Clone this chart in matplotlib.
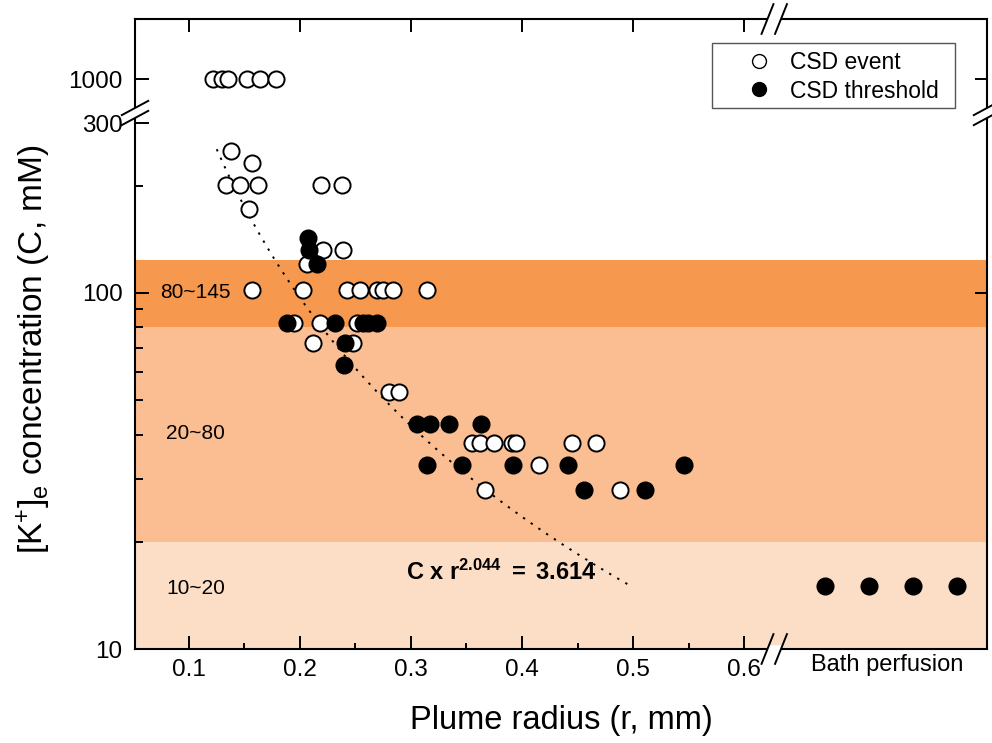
import numpy as np
import matplotlib.pyplot as plt
import matplotlib.ticker as ticker
from matplotlib.lines import Line2D
from matplotlib.patches import Polygon, Rectangle

plt.rcParams['font.family'] = ['Liberation Sans', 'DejaVu Sans']
plt.rcParams['mathtext.fontset'] = 'custom'
plt.rcParams['mathtext.rm'] = 'Liberation Sans'
plt.rcParams['mathtext.it'] = 'Liberation Sans:italic'
plt.rcParams['mathtext.bf'] = 'Liberation Sans:bold'

# --- data ---
event_r = [0.122, 0.130, 0.135, 0.152, 0.164, 0.178,
           0.138, 0.157,
           0.133, 0.146, 0.162, 0.219, 0.238,
           0.154,
           0.221, 0.239, 0.206,
           0.157, 0.203, 0.242, 0.254, 0.269, 0.275, 0.284, 0.314,
           0.195, 0.218, 0.251,
           0.212, 0.248,
           0.280, 0.289,
           0.355, 0.362, 0.375, 0.391, 0.395, 0.445, 0.467,
           0.415,
           0.367, 0.488]
event_c = [1000, 1000, 1000, 1000, 1000, 1000,
           251, 232,
           201, 201, 201, 201, 201,
           172,
           132, 132, 121,
           102, 102, 102, 102, 102, 102, 102, 102,
           82.4, 82.4, 82.4,
           72.4, 72.4,
           52.7, 52.7,
           37.9, 37.9, 37.9, 37.9, 37.9, 37.9, 37.9,
           32.9,
           28.0, 28.0]

thresh_r = [0.207, 0.208, 0.215,
            0.188, 0.232, 0.257, 0.261, 0.269,
            0.241, 0.240,
            0.305, 0.317, 0.334, 0.363,
            0.314, 0.346, 0.392, 0.441, 0.546,
            0.456, 0.511]
thresh_c = [143, 132, 121,
            82.4, 82.4, 82.4, 82.4, 82.4,
            72.4, 62.8,
            42.9, 42.9, 42.9, 42.9,
            32.9, 32.9, 32.9, 32.9, 32.9,
            28.0, 28.0]

bath_idx = [1, 2, 3, 4]
bath_c = [15.0, 15.0, 15.0, 15.0]

# power-law fit printed on the chart: C * r^n = k
fit_k = 3.614
fit_n = 2.044
fit_r_range = (0.125, 0.5)

band_edges = [10, 20, 80, 124]
band_labels = ['10~20', '20~80', '80~145']
band_label_y = [14.8, 40.4, 100]
band_colors = ['#FCDEC7', '#FABE92', '#F7984F']

x_ticks = [0.1, 0.2, 0.3, 0.4, 0.5, 0.6]
x_minor = [0.15, 0.25, 0.35, 0.45, 0.55]
y_ticks = [10, 100, 300, 1000]
y_minor = [20, 30, 40, 50, 60, 70, 80, 90, 200]

# --- broken log axis for y (compressed above 300) ---
Y_BREAK = 300.0
SQUEEZE = 0.237


def fwd(y):
    y = np.asarray(y, dtype=float)
    lb = np.log10(Y_BREAK)
    with np.errstate(divide='ignore', invalid='ignore'):
        ly = np.log10(np.clip(y, 1e-9, None))
    return np.where(ly <= lb, ly, lb + (ly - lb) * SQUEEZE)


def inv(t):
    t = np.asarray(t, dtype=float)
    lb = np.log10(Y_BREAK)
    with np.errstate(over='ignore'):
        return np.where(t <= lb, 10.0 ** t, 10.0 ** (lb + (t - lb) / SQUEEZE))


W, H = 992, 743
fig = plt.figure(figsize=(W / 100, H / 100), dpi=100)


def fx(px):
    return px / W


def fy(py):
    return 1 - py / H


L, R, T, B, X_BRK = 135, 987, 19, 649, 774
ax = fig.add_axes([fx(L), fy(B), fx(X_BRK) - fx(L), fy(T) - fy(B)])
axb = fig.add_axes([fx(X_BRK), fy(B), fx(R) - fx(X_BRK), fy(T) - fy(B)])

y_top = float(inv(1 + (B - T) / 356.0))
for a in (ax, axb):
    a.set_yscale('function', functions=(fwd, inv))
    a.set_ylim(10, y_top)
    for lo, hi, col in zip(band_edges[:-1], band_edges[1:], band_colors):
        a.axhspan(lo, hi, color=col, lw=0, zorder=0)
    for s in a.spines.values():
        s.set_linewidth(1.5)

ax.set_xlim(0.0514, 0.627)
axb.set_xlim(-0.16, 4.69)
ax.spines['right'].set_visible(False)
axb.spines['left'].set_visible(False)

# fit curve
r_fit = np.linspace(fit_r_range[0], fit_r_range[1], 200)
ax.plot(r_fit, fit_k / r_fit ** fit_n, color='black', lw=1.4,
        ls=(0, (1.2, 3.6)), zorder=2)

ax.scatter(event_r, event_c, s=135, facecolor='white', edgecolor='black',
           linewidth=1.4, zorder=3)
ax.scatter(thresh_r, thresh_c, s=135, facecolor='black', edgecolor='black',
           linewidth=1.4, zorder=4)
axb.scatter(bath_idx, bath_c, s=135, facecolor='black', edgecolor='black',
            linewidth=1.4, zorder=4)

# ticks
ax.yaxis.set_major_locator(ticker.FixedLocator(y_ticks))
ax.yaxis.set_minor_locator(ticker.FixedLocator(y_minor))
ax.yaxis.set_major_formatter(ticker.FuncFormatter(lambda v, p: '%g' % v))
ax.yaxis.set_minor_formatter(ticker.NullFormatter())
ax.xaxis.set_major_locator(ticker.FixedLocator(x_ticks))
ax.xaxis.set_minor_locator(ticker.FixedLocator(x_minor))
ax.xaxis.set_major_formatter(ticker.FuncFormatter(lambda v, p: '%g' % v))

ax.tick_params(axis='y', which='major', direction='in', length=10, width=1.4,
               labelsize=17.5, pad=9)
ax.tick_params(axis='y', which='minor', direction='in', length=5.5, width=1.4)
ax.tick_params(axis='x', which='major', direction='in', length=9.5, width=1.4,
               labelsize=17.5, pad=7, top=True)
ax.tick_params(axis='x', which='minor', direction='in', length=4.5, width=1.4,
               top=False)

axb.xaxis.set_major_locator(ticker.NullLocator())
axb.xaxis.set_minor_locator(ticker.NullLocator())
axb.yaxis.set_major_locator(ticker.FixedLocator([100, 1000]))
axb.yaxis.set_minor_locator(ticker.NullLocator())
axb.tick_params(axis='y', which='major', direction='in', length=9, width=1.4,
                left=False, labelleft=False, right=True, labelright=False)

# band labels and fit equation
for lab, yv in zip(band_labels, band_label_y):
    ax.text(0.106, yv, lab, ha='center', va='center', fontsize=15, zorder=5)
ax.text(0.381, 16.4, r'$\mathbf{C\ x\ r^{2.044}\ =\ 3.614}$',
        ha='center', va='center', fontsize=17, zorder=5)

# axis labels
fig.text(fx(561), fy(721), 'Plume radius (r, mm)', ha='center', va='center',
         fontsize=23.5)
fig.text(fx(34), fy(349), r'[K$^{+}$]$_{\mathrm{e}}$ concentration (C, mM)',
         ha='center', va='center', rotation=90, fontsize=24)
fig.text(fx(887), fy(665), 'Bath perfusion', ha='center', va='center',
         fontsize=17)


# axis break marks
def spine_break(c1, c2, u, half):
    ux, uy = u
    n = np.hypot(ux, uy)
    ux, uy = ux / n, uy / n
    a = 4.0
    poly = [(c1[0] - ux * a, c1[1] - uy * a), (c2[0] - ux * a, c2[1] - uy * a),
            (c2[0] + ux * a, c2[1] + uy * a), (c1[0] + ux * a, c1[1] + uy * a)]
    fig.add_artist(Polygon([(fx(p[0]), fy(p[1])) for p in poly],
                           closed=True, transform=fig.transFigure,
                           facecolor='white', edgecolor='none', zorder=2))
    for c in (c1, c2):
        fig.add_artist(Line2D([fx(c[0] - ux * half), fx(c[0] + ux * half)],
                              [fy(c[1] - uy * half), fy(c[1] + uy * half)],
                              transform=fig.transFigure, color='black',
                              lw=1.4, zorder=3))


spine_break((767.5, B), (781, B), (12, -30), 16)
spine_break((767.5, T), (781, T), (12, -30), 16)
spine_break((L, 118), (L, 108), (26, -14), 15)
spine_break((R, 118), (R, 108), (26, -14), 15)

# legend with a hand-drawn frame
fig.add_artist(Rectangle((fx(712), fy(108)), fx(955) - fx(712), fy(43) - fy(108),
                         transform=fig.transFigure, facecolor='white',
                         edgecolor='#555555', lw=1.0, zorder=1))
handles = [Line2D([], [], ls='none', marker='o', ms=10, mfc='white',
                  mec='black', mew=1.0),
           Line2D([], [], ls='none', marker='o', ms=10, mfc='black',
                  mec='black', mew=1.0)]
fig.legend(handles, ['CSD event', 'CSD threshold'], loc='upper left',
           bbox_to_anchor=(fx(747.5), fy(51)), frameon=False, borderpad=0,
           handlelength=1.0, handletextpad=0.85, labelspacing=0.24,
           fontsize=16.5, borderaxespad=0)

fig.savefig('out.png', dpi=100)
